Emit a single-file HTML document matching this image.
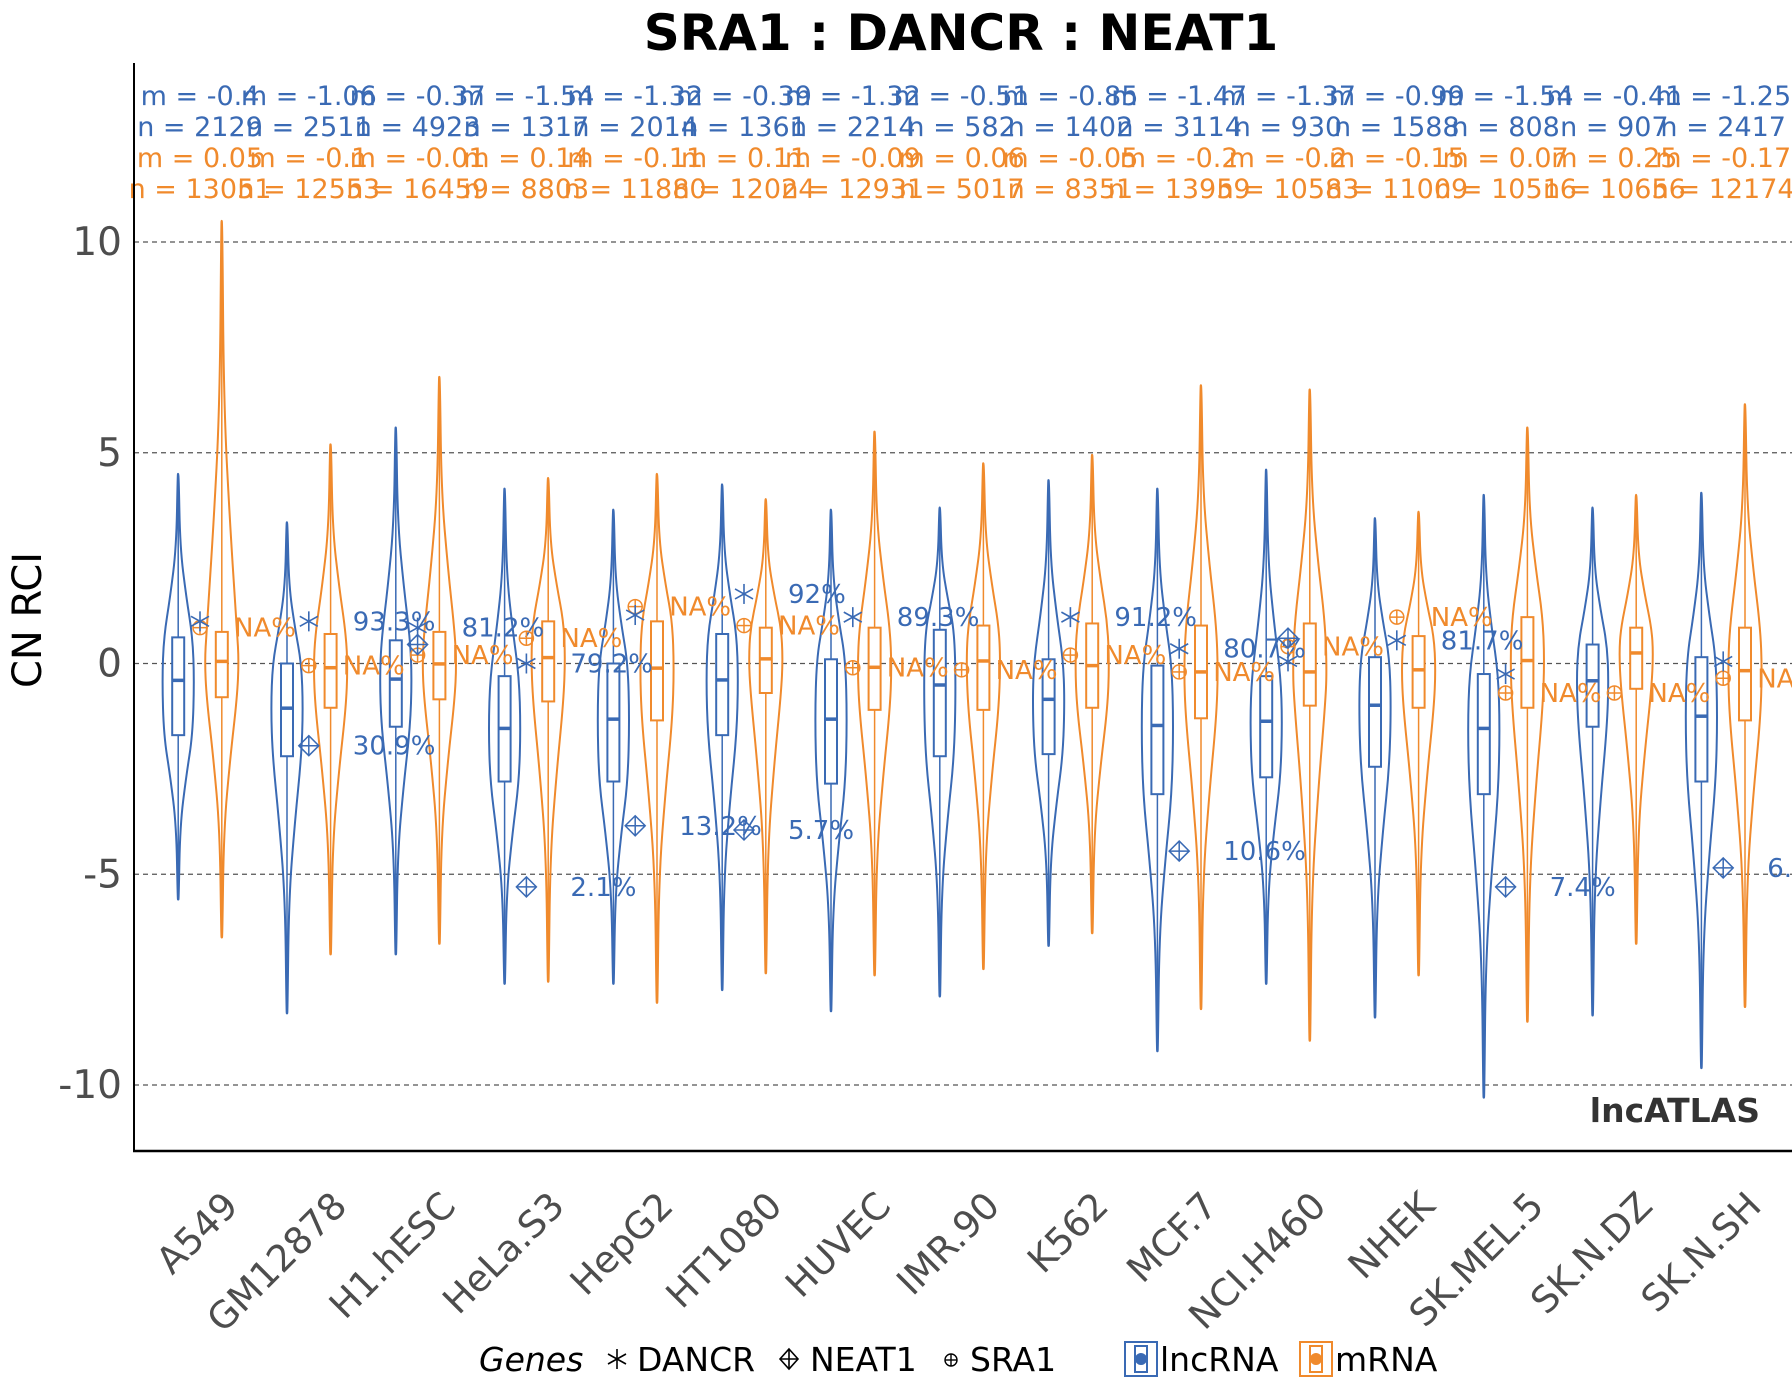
<!DOCTYPE html>
<html><head><meta charset="utf-8"><style>
html,body{margin:0;padding:0;background:#fff;}
svg{display:block;font-family:"DejaVu Sans","Liberation Sans",sans-serif;}
</style></head><body>
<svg id="chart" width="1792" height="1400" viewBox="0 0 1792 1400" xmlns="http://www.w3.org/2000/svg">
<rect width="1792" height="1400" fill="#fff"/>
<text x="961" y="50" text-anchor="middle" font-size="50" font-weight="bold" fill="#000">SRA1 : DANCR : NEAT1</text>
<g id="grid"></g>
<g id="plot"></g>
<g id="annot"></g>
<line x1="134" y1="63" x2="134" y2="1151" stroke="#000" stroke-width="2"/>
<line x1="133" y1="1151" x2="1792" y2="1151" stroke="#000" stroke-width="2.5"/>
<text transform="translate(41,620) rotate(-90)" text-anchor="middle" font-size="40" fill="#000">CN RCI</text>
<text x="1760" y="1122" text-anchor="end" font-size="33" font-weight="bold" fill="#333">lncATLAS</text>
<g id="xlabels"></g>
<g font-size="33" fill="#000" transform="translate(0,-8)">
<text x="479" y="1379" font-style="italic">Genes</text>
<g stroke="#000" stroke-width="1.6"><line x1="617" y1="1357" x2="617" y2="1377"/><line x1="608" y1="1362" x2="626" y2="1372"/><line x1="608" y1="1372" x2="626" y2="1362"/></g>
<text x="637" y="1379">DANCR</text>
<g stroke="#000" stroke-width="1.6" fill="none"><path d="M789,1357 L798,1367 L789,1377 L780,1367 Z"/><line x1="789" y1="1357" x2="789" y2="1377"/><line x1="780" y1="1367" x2="798" y2="1367"/></g>
<text x="810" y="1379">NEAT1</text>
<g stroke="#000" stroke-width="1.4" fill="none"><circle cx="951" cy="1368" r="6"/><line x1="945" y1="1368" x2="957" y2="1368"/><line x1="951" y1="1362" x2="951" y2="1374"/></g>
<text x="970" y="1379">SRA1</text>
<g><rect x="1125" y="1350" width="32" height="34" fill="#fff" stroke="#3a6ab4" stroke-width="2"/><rect x="1135" y="1354" width="12" height="26" fill="none" stroke="#3a6ab4" stroke-width="2"/><circle cx="1141" cy="1367" r="6" fill="#3a6ab4"/></g>
<text x="1160" y="1379">lncRNA</text>
<g><rect x="1300" y="1350" width="32" height="34" fill="#fff" stroke="#f08a2c" stroke-width="2"/><rect x="1310" y="1354" width="12" height="26" fill="none" stroke="#f08a2c" stroke-width="2"/><circle cx="1316" cy="1367" r="6" fill="#f08a2c"/></g>
<text x="1335" y="1379">mRNA</text>
</g>
</svg>
<script>
const cells = ["A549","GM12878","H1.hESC","HeLa.S3","HepG2","HT1080","HUVEC","IMR.90","K562","MCF.7","NCI.H460","NHEK","SK.MEL.5","SK.N.DZ","SK.N.SH"];
// lncRNA stats
const lncMin = [-5.6,-8.3,-6.9,-7.6,-7.6,-7.75,-8.25,-7.9,-6.7,-9.2,-7.6,-8.4,-10.3,-8.35,-9.6];
const lncQ1  = [-1.7,-2.2,-1.5,-2.8,-2.8,-1.7,-2.85,-2.2,-2.15,-3.1,-2.7,-2.45,-3.1,-1.5,-2.8];
const lncMed = [-0.4,-1.06,-0.37,-1.54,-1.32,-0.39,-1.32,-0.51,-0.85,-1.47,-1.37,-0.99,-1.54,-0.41,-1.25];
const lncQ3  = [0.62,0,0.55,-0.3,0,0.7,0.1,0.8,0.1,-0.05,-0.3,0.15,-0.25,0.45,0.15];
const lncMax = [4.5,3.35,5.6,4.15,3.65,4.25,3.65,3.7,4.35,4.15,4.6,3.45,4.0,3.7,4.05];
const lncN   = [2129,2511,4923,1317,2014,1361,2214,582,1402,3114,930,1588,808,907,2417];
// mRNA stats
const mMin = [-6.5,-6.9,-6.65,-7.55,-8.05,-7.35,-7.4,-7.25,-6.4,-8.2,-8.95,-7.4,-8.5,-6.65,-8.15];
const mQ1  = [-0.8,-1.05,-0.85,-0.9,-1.35,-0.7,-1.1,-1.1,-1.05,-1.3,-1.0,-1.05,-1.05,-0.6,-1.35];
const mMed = [0.05,-0.1,-0.01,0.14,-0.11,0.11,-0.09,0.06,-0.05,-0.2,-0.2,-0.15,0.07,0.25,-0.17];
const mQ3  = [0.75,0.7,0.75,1.0,1.0,0.85,0.85,0.9,0.95,0.9,0.95,0.65,1.1,0.85,0.85];
const mMax = [10.5,5.2,6.8,4.4,4.5,3.9,5.5,4.75,4.95,6.6,6.5,3.6,5.6,4.0,6.15];
const mN   = [13051,12553,16459,8803,11880,12024,12931,5017,8351,13959,10583,11009,10516,10656,12174];
// gene points (null = absent)
const dancrVal = [1.0,1.0,0.85,0.0,1.15,1.65,1.1,null,1.1,0.35,0.05,0.55,-0.25,null,0.05];
const dancrLab = ["","93.3%","81.2%","79.2%","","92%","89.3%","","91.2%","80.7%","","81.7%","","",""];
const neat1Val = [null,-1.95,0.45,-5.3,-3.85,-3.95,null,null,null,-4.45,0.6,null,-5.3,null,-4.85];
const neat1Lab = ["","30.9%","","2.1%","13.2%","5.7%","","","","10.6%","","","7.4%","","6.9%"];
const sra1Val  = [0.85,-0.05,0.2,0.6,1.35,0.9,-0.1,-0.15,0.2,-0.2,0.4,1.1,-0.7,-0.7,-0.35];
const yTicks = [10,5,0,-5,-10];

const BLUE="#3a6ab4", ORANGE="#f08a2c";
const NS="http://www.w3.org/2000/svg";
const X = i => 200 + 108.8*i;
const Y = v => 663.5 - 42.15*v;
const DODGE = 21.8;
function mk(tag, attrs, parent){const e=document.createElementNS(NS,tag);for(const k in attrs)e.setAttribute(k,attrs[k]);parent.appendChild(e);return e;}

const grid=document.getElementById('grid');
yTicks.forEach(t=>{
  const l=mk('line',{x1:134,x2:1792,y1:Y(t),y2:Y(t),stroke:'#555','stroke-width':1.2,'stroke-dasharray':'5,4'},grid);
  
  
  const tx=mk('text',{x:122,y:Y(t)+13,'text-anchor':'end','font-size':39,fill:'#4d4d4d'},grid);
  tx.textContent=String(t);
  
  
});

function violinPath(cx,mn,q1,md,q3,mx,w){
  const prof=[[mx,0.03],[q3+(mx-q3)*0.55,0.12],[q3+(mx-q3)*0.25,0.5],[q3,0.9],[md,1],[q1,0.9],[q1-(q1-mn)*0.25,0.5],[q1-(q1-mn)*0.55,0.12],[mn,0.03]];
  const right=prof.map(p=>[cx+p[1]*w,Y(p[0])]);
  const left=prof.slice().reverse().map(p=>[cx-p[1]*w,Y(p[0])]);
  const pts=[[cx,Y(mx)],...right,[cx,Y(mn)],...left,[cx,Y(mx)]];
  let d=`M${pts[0][0]},${pts[0][1]}`;
  for(let i=1;i<pts.length-1;i++){
    const mxp=(pts[i][0]+pts[i+1][0])/2, myp=(pts[i][1]+pts[i+1][1])/2;
    d+=` Q${pts[i][0]},${pts[i][1]} ${mxp},${myp}`;
  }
  d+=` L${pts[pts.length-1][0]},${pts[pts.length-1][1]} Z`;
  return d;
}

const plot=document.getElementById('plot');
function drawGroup(i,cx,mn,q1,md,q3,mx,col,w,kind){
  const g=mk('g',{},plot);
  
  
  mk('line',{x1:cx,x2:cx,y1:Y(mx),y2:Y(mn),stroke:col,'stroke-width':1.5},g);
  mk('path',{d:violinPath(cx,mn,q1,md,q3,mx,w),fill:'none',stroke:col,'stroke-width':2},g);
  mk('rect',{x:cx-6,y:Y(q3),width:12,height:Y(q1)-Y(q3),fill:'#fff',stroke:col,'stroke-width':2},g);
  mk('line',{x1:cx-6,x2:cx+6,y1:Y(md),y2:Y(md),stroke:col,'stroke-width':3.5},g);
}
cells.forEach((c,i)=>{
  drawGroup(i,X(i)-DODGE,lncMin[i],lncQ1[i],lncMed[i],lncQ3[i],lncMax[i],BLUE,16,'lncrna');
  drawGroup(i,X(i)+DODGE,mMin[i],mQ1[i],mMed[i],mQ3[i],mMax[i],ORANGE,17,'mrna');
});

// gene markers
cells.forEach((c,i)=>{
  const cx=X(i);
  if(sra1Val[i]!==null){
    const y=Y(sra1Val[i]);
    const g=mk('g',{stroke:ORANGE,'stroke-width':1.5,fill:'none'},plot);
    
    
    mk('circle',{cx:cx,cy:y,r:7},g);
    mk('line',{x1:cx-7,x2:cx+7,y1:y,y2:y},g);
    mk('line',{x1:cx,x2:cx,y1:y-7,y2:y+7},g);
    const t=mk('text',{x:cx+34,y:y+9,'font-size':26,fill:ORANGE,stroke:'none'},plot);
    t.textContent='NA%';
    
    
  }
  if(neat1Val[i]!==null){
    const y=Y(neat1Val[i]);
    const g=mk('g',{stroke:BLUE,'stroke-width':1.5,fill:'none'},plot);
    
    
    mk('path',{d:`M${cx},${y-10} L${cx+10},${y} L${cx},${y+10} L${cx-10},${y} Z`},g);
    mk('line',{x1:cx-10,x2:cx+10,y1:y,y2:y},g);
    mk('line',{x1:cx,x2:cx,y1:y-10,y2:y+10},g);
    if(neat1Lab[i]){
      const t=mk('text',{x:cx+44,y:y+9,'font-size':26,fill:BLUE},plot);
      t.textContent=neat1Lab[i];
      
      
    }
  }
  if(dancrVal[i]!==null){
    const y=Y(dancrVal[i]);
    const g=mk('g',{stroke:BLUE,'stroke-width':1.6},plot);
    
    
    mk('line',{x1:cx,x2:cx,y1:y-10,y2:y+10},g);
    mk('line',{x1:cx-9,x2:cx+9,y1:y-5,y2:y+5},g);
    mk('line',{x1:cx-9,x2:cx+9,y1:y+5,y2:y-5},g);
    if(dancrLab[i]){
      const t=mk('text',{x:cx+44,y:y+9,'font-size':26,fill:BLUE},plot);
      t.textContent=dancrLab[i];
      
      
    }
  }
});

// top annotations
const annot=document.getElementById('annot');
cells.forEach((c,i)=>{
  const rows=[['m = '+lncMed[i],BLUE,105],['n = '+lncN[i],BLUE,136],['m = '+mMed[i],ORANGE,167],['n = '+mN[i],ORANGE,198]];
  rows.forEach((r,k)=>{
    const t=mk('text',{x:X(i),y:r[2],'text-anchor':'middle','font-size':27,fill:r[1]},annot);
    t.textContent=r[0];
    
    
  });
});

// x labels
const xl=document.getElementById('xlabels');
cells.forEach((c,i)=>{
  const ax=X(i)+40, ay=1208;
  const t=mk('text',{x:ax,y:ay,'text-anchor':'end','font-size':37,fill:'#4d4d4d',transform:`rotate(-45 ${ax} ${ay})`},xl);
  t.textContent=c;
  
  
});
</script>
</body></html>
